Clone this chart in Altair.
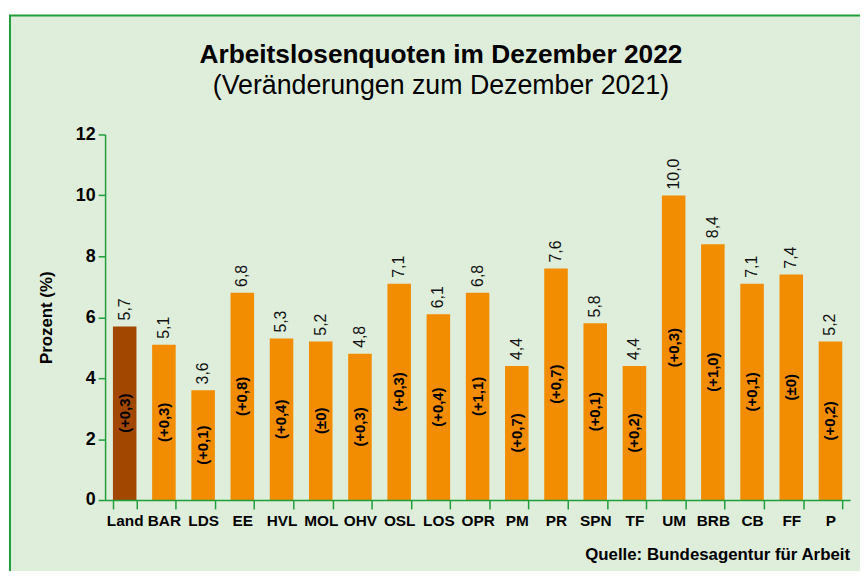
import altair as alt
import pandas as pd

regions = ["Land", "BAR", "LDS", "EE", "HVL", "MOL", "OHV", "OSL", "LOS", "OPR",
           "PM", "PR", "SPN", "TF", "UM", "BRB", "CB", "FF", "P"]
quote = [5.7, 5.1, 3.6, 6.8, 5.3, 5.2, 4.8, 7.1, 6.1, 6.8,
         4.4, 7.6, 5.8, 4.4, 10.0, 8.4, 7.1, 7.4, 5.2]
change = ["(+0,3)", "(+0,3)", "(+0,1)", "(+0,8)", "(+0,4)", "(±0)", "(+0,3)", "(+0,3)", "(+0,4)", "(+1,1)",
          "(+0,7)", "(+0,7)", "(+0,1)", "(+0,2)", "(+0,3)", "(+1,0)", "(+0,1)", "(±0)", "(+0,2)"]
kind = ["Land"] + ["Kreis"] * 18

title_text = "Arbeitslosenquoten im Dezember 2022"
subtitle_text = "(Veränderungen zum Dezember 2021)"
source_text = "Quelle: Bundesagentur für Arbeit"

df = pd.DataFrame({
    "region": regions,
    "quote": quote,
    "label": [f"{v:.1f}".replace(".", ",") for v in quote],
    "half": [v / 2 for v in quote],
    "change": change,
    "kind": kind,
})

GREEN = "#1f9e3a"
SANS = "Liberation Sans, Arial, sans-serif"

xenc = alt.X("region:N", sort=regions,
             scale=alt.Scale(paddingInner=0.4, paddingOuter=0.2),
             axis=alt.Axis(title=None, labelAngle=0, labelFont=SANS, labelFontSize=15.5,
                           labelFontWeight="bold", labelColor="black", labelPadding=5,
                           tickBand="extent", tickColor=GREEN, tickSize=9, tickWidth=1.5,
                           domainColor=GREEN, domainWidth=1.5, zindex=1))
yscale = alt.Scale(domain=[0, 12], nice=False)

frame = alt.Chart(alt.Data(values=[{}])).mark_rect(
    fill="#dfeedb", stroke=GREEN, strokeWidth=2
).encode(x=alt.value(-96), x2=alt.value(900), y=alt.value(-120), y2=alt.value(600))

bars = alt.Chart(df).mark_bar().encode(
    x=xenc,
    y=alt.Y("quote:Q", scale=yscale,
            axis=alt.Axis(title="Prozent (%)", values=[0, 2, 4, 6, 8, 10, 12], grid=False,
                          labelFont=SANS, labelFontSize=18, labelFontWeight="bold",
                          labelColor="black", labelPadding=3,
                          tickColor=GREEN, tickSize=7, tickWidth=1.5,
                          domainColor=GREEN, domainWidth=1.5,
                          titleFont=SANS, titleFontSize=17, titleFontWeight="bold",
                          titleColor="black", titlePadding=20, zindex=1)),
    color=alt.Color("kind:N", scale=alt.Scale(domain=["Land", "Kreis"], range=["#a24700", "#f28c00"]),
                    legend=None),
)

values = alt.Chart(df).mark_text(
    angle=270, align="left", baseline="middle", dx=6, font=SANS, fontSize=16, color="#111111"
).encode(x=alt.X("region:N", sort=regions), y=alt.Y("quote:Q", scale=yscale), text="label:N")

changes = alt.Chart(df).mark_text(
    angle=270, align="center", baseline="middle", font=SANS, fontSize=15,
    fontWeight="bold", color="black"
).encode(x=alt.X("region:N", sort=regions), y=alt.Y("half:Q", scale=yscale), text="change:N")

source = alt.Chart(alt.Data(values=[{"t": source_text}])).mark_text(
    align="right", baseline="alphabetic", font=SANS, fontSize=17, fontWeight="bold", color="black"
).encode(x=alt.value(752), y=alt.value(430), text="t:N")

title = alt.Chart(alt.Data(values=[{"t": title_text}])).mark_text(
    align="center", baseline="alphabetic", font=SANS, fontSize=26.5, fontWeight="bold", color="black"
).encode(x=alt.value(339), y=alt.value(-72), text="t:N")

subtitle = alt.Chart(alt.Data(values=[{"t": subtitle_text}])).mark_text(
    align="center", baseline="alphabetic", font=SANS, fontSize=27, color="black"
).encode(x=alt.value(339), y=alt.value(-41), text="t:N")

chart = alt.layer(frame, bars, values, changes, source, title, subtitle).properties(
    width=752, height=369,
    autosize=alt.AutoSizeParams(type="none"),
    padding={"left": 98, "top": 125, "right": 10, "bottom": 69},
    background="white",
).configure_view(stroke=None)

chart.save("out.html", embed_options={"renderer": "svg", "actions": False})
